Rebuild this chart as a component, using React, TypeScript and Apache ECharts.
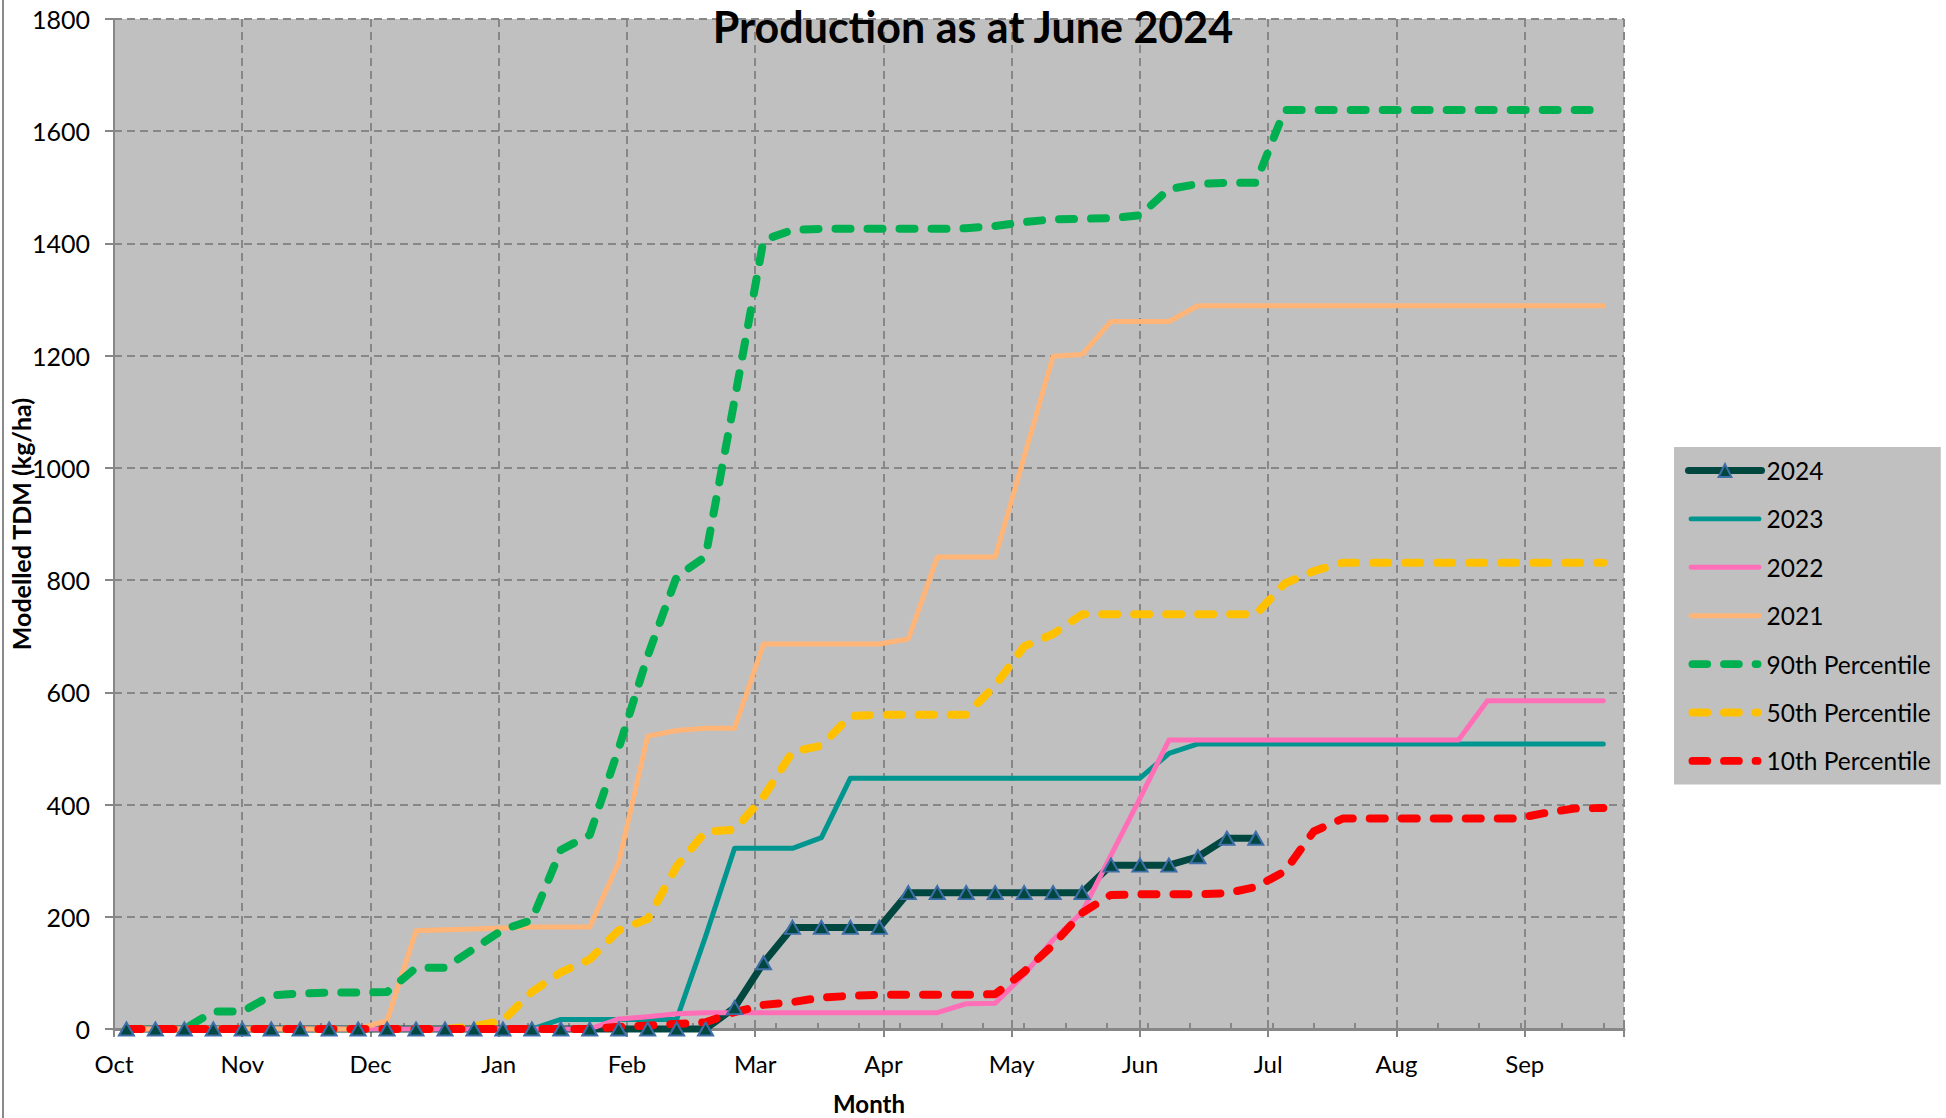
import React, { useEffect, useRef } from 'react';
import * as echarts from 'echarts';

// Month tick labels (each month spans 31 axis units on this chart)
const months = ['Oct', 'Nov', 'Dec', 'Jan', 'Feb', 'Mar', 'Apr', 'May', 'Jun', 'Jul', 'Aug', 'Sep'];

// Weekly sample positions along the season axis
const weekDays = [
  3, 10, 17, 24, 31, 38, 45, 52, 59, 66,
  73, 80, 87, 94, 101, 108, 115, 122, 129, 136,
  143, 150, 157, 164, 171, 178, 185, 192, 199, 206,
  213, 220, 227, 234, 241, 248, 255, 262, 269, 276,
  283, 290, 297, 304, 311, 318, 325, 332, 339, 346,
  353, 360,
];

const s2024 = [
  0, 0, 0, 0, 0, 0, 0, 0, 0, 0,
  0, 0, 0, 0, 0, 0, 0, 0, 0, 0,
  0, 38, 118, 181, 181, 181, 181, 243, 243, 243,
  243, 243, 243, 243, 292, 292, 292, 307, 340, 340,
  null, null, null, null, null, null, null, null, null, null,
  null, null,
];

const s2023 = [
  0, 0, 0, 0, 0, 0, 0, 0, 0, 0,
  0, 0, 0, 0, 0, 17, 17, 17, 17, 17,
  165, 322, 322, 322, 341, 447, 447, 447, 447, 447,
  447, 447, 447, 447, 447, 447, 491, 508, 508, 508,
  508, 508, 508, 508, 508, 508, 508, 508, 508, 508,
  508, 508,
];

const s2022 = [
  0, 0, 0, 0, 0, 0, 0, 0, 0, 0,
  0, 0, 0, 0, 0, 0, 0, 18, 22, 27,
  29, 29, 29, 29, 29, 29, 29, 29, 29, 45,
  46, 97, 159, 208, 310, 411, 515, 515, 515, 515,
  515, 515, 515, 515, 515, 515, 515, 585, 585, 585,
  585, 585,
];

const s2021 = [
  0, 0, 0, 0, 0, 0, 0, 0, 0, 15,
  175, 177, 178, 180, 182, 182, 182, 297, 522, 532,
  536, 536, 686, 686, 686, 686, 686, 695, 841, 841,
  841, 1020, 1199, 1202, 1261, 1261, 1261, 1289, 1289, 1289,
  1289, 1289, 1289, 1289, 1289, 1289, 1289, 1289, 1289, 1289,
  1289, 1289,
];

const p90 = [
  0, 0, 0, 31, 31, 60, 63, 65, 65, 66,
  109, 109, 143, 177, 194, 319, 346, 500, 665, 806,
  842, 1121, 1406, 1424, 1426, 1426, 1426, 1426, 1426, 1427,
  1431, 1438, 1443, 1444, 1445, 1450, 1497, 1506, 1508, 1508,
  1638, 1638, 1638, 1638, 1638, 1638, 1638, 1638, 1638, 1638,
  1638, 1638,
];

const p50 = [
  0, 0, 0, 0, 0, 0, 0, 0, 0, 0,
  0, 0, 5, 15, 66, 101, 124, 176, 196, 290,
  352, 355, 414, 494, 505, 558, 560, 560, 560, 560,
  612, 682, 704, 739, 739, 739, 739, 739, 739, 739,
  794, 816, 831, 831, 831, 831, 831, 831, 831, 831,
  831, 831,
];

const p10 = [
  0, 0, 0, 0, 0, 0, 0, 0, 0, 0,
  0, 0, 0, 0, 0, 0, 0, 4, 6, 9,
  12, 30, 43, 48, 56, 59, 61, 61, 61, 61,
  62, 102, 150, 207, 239, 240, 240, 240, 242, 253,
  281, 352, 375, 375, 375, 375, 375, 375, 375, 385,
  393, 394,
];

const yTicks = { min: 0, max: 1800, interval: 200 };

// Legend icon shapes (drawn inside the legend's icon box)
const DASH_ICON =
  'path://M4,0 L19,0 A4,4 0 0 1 19,8 L4,8 A4,4 0 0 1 4,0 Z ' +
  'M36,0 L51,0 A4,4 0 0 1 51,8 L36,8 A4,4 0 0 1 36,0 Z ' +
  'M68,0 L70,0 A4,4 0 0 1 70,8 L68,8 A4,4 0 0 1 68,0 Z';
const SOLID_ICON = 'path://M2.5,0 L71.5,0 A2.5,2.5 0 0 1 71.5,5 L2.5,5 A2.5,2.5 0 0 1 2.5,0 Z';

function pairs(vals: (number | null)[]) {
  return weekDays.map((d, i) => [d, vals[i]]);
}

export default function App() {
  const ref = useRef<HTMLDivElement>(null);

  useEffect(() => {
    const chart = echarts.init(ref.current!, null, { renderer: 'svg' });
    const gridColor = '#878787';
    const font = 'Lato';

    const solid = (name: string, color: string, vals: (number | null)[], width = 5) => ({
      name,
      type: 'line',
      data: pairs(vals),
      symbol: 'none',
      clip: false,
      lineStyle: { color, width, cap: 'round', join: 'round' },
      itemStyle: { color },
    });
    const dashed = (name: string, color: string, vals: (number | null)[]) => ({
      name,
      type: 'line',
      data: pairs(vals),
      symbol: 'none',
      clip: false,
      lineStyle: { color, width: 8, type: [15, 17], cap: 'round', join: 'round' },
      itemStyle: { color },
    });

    chart.setOption({
      animation: false,
      backgroundColor: '#ffffff',
      title: {
        text: 'Production as at June 2024',
        left: 'center',
        top: 5,
        padding: 0,
        textStyle: { fontFamily: font, fontWeight: 'bold', fontSize: 43, color: '#000' },
      },
      grid: {
        left: 114,
        right: 322,
        top: 19,
        bottom: 89,
        show: true,
        backgroundColor: '#C0C0C0',
        borderWidth: 0,
        containLabel: false,
        outerBoundsMode: 'none',
      },
      legend: {
        orient: 'vertical',
        left: 1674,
        top: 447,
        padding: [11, 10, 11, 11],
        backgroundColor: '#C0C0C0',
        itemWidth: 73,
        itemHeight: 16,
        itemGap: 23.4,
        textStyle: { fontFamily: font, fontSize: 24.5, color: '#000', lineHeight: 24 },
        data: [
          { name: '2024', lineStyle: { width: 7, cap: 'round' } },
          { name: '2023', icon: SOLID_ICON },
          { name: '2022', icon: SOLID_ICON },
          { name: '2021', icon: SOLID_ICON },
          { name: '90th Percentile', icon: DASH_ICON },
          { name: '50th Percentile', icon: DASH_ICON },
          { name: '10th Percentile', icon: DASH_ICON },
        ],
      },
      graphic: [
        {
          type: 'line',
          shape: { x1: 3, y1: 0, x2: 3, y2: 1118 },
          style: { stroke: '#8a8a8a', lineWidth: 2 },
        },
      ],
      xAxis: [
        {
          type: 'value',
          min: 0,
          max: 365,
          interval: 31,
          name: 'Month',
          nameLocation: 'middle',
          nameGap: 62,
          nameMoveOverlap: false,
          nameTextStyle: { fontFamily: font, fontWeight: 'bold', fontSize: 24, color: '#000' },
          axisLine: { show: true, onZero: false, lineStyle: { color: gridColor, width: 3 } },
          axisTick: { show: true, length: 8, lineStyle: { color: gridColor, width: 2 } },
          axisLabel: {
            fontFamily: font,
            fontSize: 24,
            color: '#000',
            margin: 22,
            formatter: (v: number) => {
              const k = Math.round(v / 31);
              return Math.abs(v - k * 31) < 0.01 && k < months.length ? months[k] : '';
            },
          },
          splitLine: { show: true, lineStyle: { color: gridColor, width: 2, type: [8, 5] } },
        },
        {
          type: 'value',
          position: 'bottom',
          min: 0,
          max: 365,
          interval: 10,
          axisLine: { show: false },
          axisTick: { show: true, inside: true, length: 6, lineStyle: { color: gridColor, width: 2 } },
          axisLabel: { show: false },
          splitLine: { show: false },
        },
      ],
      yAxis: {
        type: 'value',
        min: yTicks.min,
        max: yTicks.max,
        interval: yTicks.interval,
        name: 'Modelled TDM (kg/ha)',
        nameLocation: 'middle',
        nameGap: 81,
        nameRotate: 90,
        nameMoveOverlap: false,
        nameTextStyle: { fontFamily: font, fontWeight: 'bold', fontSize: 25, color: '#000' },
        axisLine: { show: true, lineStyle: { color: gridColor, width: 2 } },
        axisTick: { show: true, length: 9, lineStyle: { color: gridColor, width: 2 } },
        axisLabel: {
          fontFamily: font,
          fontSize: 25,
          color: '#000',
          margin: 24,
          formatter: (v: number) => String(v),
        },
        splitLine: { show: true, lineStyle: { color: gridColor, width: 2, type: [8, 5] } },
      },
      series: [
        {
          name: '2024',
          type: 'line',
          data: pairs(s2024),
          symbol: 'triangle',
          symbolSize: [15, 13],
          showAllSymbol: true,
          clip: false,
          lineStyle: { color: '#00473F', width: 7, cap: 'round', join: 'round' },
          itemStyle: { color: '#00473F', borderColor: '#3E6EA8', borderWidth: 2 },
        },
        solid('2023', '#00968F', s2023),
        solid('2022', '#FF6FB7', s2022),
        solid('2021', '#FFB478', s2021),
        dashed('90th Percentile', '#00B050', p90),
        dashed('50th Percentile', '#FFC000', p50),
        dashed('10th Percentile', '#FF0000', p10),
      ],
    });

    return () => chart.dispose();
  }, []);

  return (
    <div
      ref={ref}
      style={{ position: 'fixed', left: 0, top: 0, width: 1946, height: 1118, background: '#fff' }}
    />
  );
}
